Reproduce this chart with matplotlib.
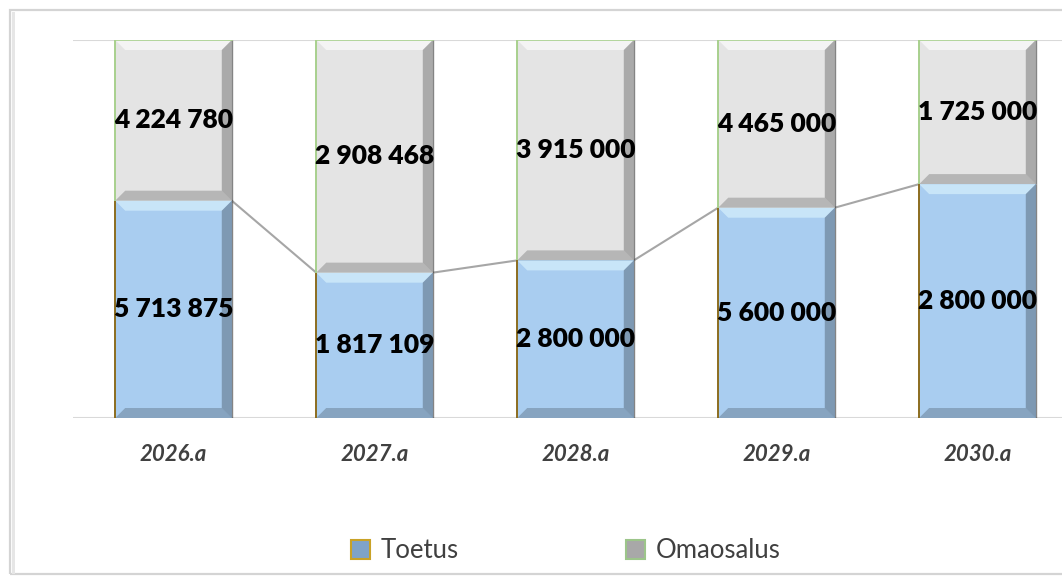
"""
100% virnadiagramm: Toetus vs Omaosalus aastate kaupa
"""

import numpy as np
import matplotlib
matplotlib.use("Agg")
import matplotlib.pyplot as plt
from matplotlib.patches import Polygon, Patch, Rectangle

plt.rcParams["font.family"] = ["Lato", "DejaVu Sans"]

years = ["2026.a", "2027.a", "2028.a", "2029.a", "2030.a"]
toetus = [5713875, 1817109, 2800000, 5600000, 2800000]
omaosalus = [4224780, 2908468, 3915000, 4465000, 1725000]

C_TOETUS = "#A9CDF0"
C_OMA = "#E4E4E4"
EDGE_TOETUS = "#8C6D1F"
EDGE_OMA = "#A8D08D"
C_LINE = "#A6A6A6"
C_TEXT = "#404040"

W, H = 1062, 578
fig = plt.figure(figsize=(W / 100, H / 100), dpi=100)

# chart frame (runs off the right edge like the screenshot)
fig.patches.append(Rectangle((10 / W, 4 / H), 1.2, (H - 14) / H, transform=fig.transFigure,
                             fill=False, edgecolor="#D4D4D4", linewidth=1.6, zorder=0))
fig.patches.append(Rectangle((12 / W, 4 / H), 3 / W, (H - 16) / H, transform=fig.transFigure,
                             facecolor="#E6E6E6", edgecolor="none", zorder=0))

ax_left, ax_right = 73, 73 + 1005
ax_top, ax_bot = 40, 418
ax = fig.add_axes([ax_left / W, 1 - ax_bot / H, (ax_right - ax_left) / W, (ax_bot - ax_top) / H])

x = np.arange(len(years))
tot = np.array(toetus) + np.array(omaosalus)
share_t = np.array(toetus) / tot
share_o = np.array(omaosalus) / tot
bw = 0.58

ax.set_xlim(-0.5, len(years) - 0.5)
ax.set_ylim(0, 1)

px_x = (ax_right - ax_left) / len(years)
px_y = ax_bot - ax_top
bev = 10
dx, dy = bev / px_x, bev / px_y


def bevel_bar(xc, y0, y1, color, edge, top_col):
    x0, x1 = xc - bw / 2, xc + bw / 2
    ax.bar(xc, y1 - y0, bottom=y0, width=bw, color=color, edgecolor="none", zorder=2)
    top = [(x0, y1), (x1, y1), (x1 - dx, y1 - dy), (x0 + dx, y1 - dy)]
    right = [(x1, y1), (x1, y0), (x1 - dx, y0 + dy), (x1 - dx, y1 - dy)]
    bottom = [(x0, y0), (x1, y0), (x1 - dx, y0 + dy), (x0 + dx, y0 + dy)]
    ax.add_patch(Polygon(top, closed=True, facecolor=top_col, alpha=0.6, edgecolor="none", zorder=3))
    ax.add_patch(Polygon(right, closed=True, facecolor="black", alpha=0.25, edgecolor="none", zorder=3))
    ax.add_patch(Polygon(bottom, closed=True, facecolor="black", alpha=0.2, edgecolor="none", zorder=3))
    ax.plot([x0, x0], [y0, y1], color=edge, linewidth=1.4, zorder=4, solid_capstyle="butt")
    ax.plot([x1, x1], [y0, y1], color="#333333", linewidth=1.0, alpha=0.6, zorder=4,
            solid_capstyle="butt")


for i in range(len(years)):
    bevel_bar(x[i], 0, share_t[i], C_TOETUS, EDGE_TOETUS, "#DDF6FF")
    bevel_bar(x[i], share_t[i], 1, C_OMA, EDGE_OMA, "white")
    ax.plot([x[i] - bw / 2, x[i] + bw / 2], [1, 1], color=EDGE_OMA, linewidth=1.2, zorder=4)

# series lines between toetus tops
for i in range(len(years) - 1):
    ax.plot([x[i] + bw / 2, x[i + 1] - bw / 2], [share_t[i], share_t[i + 1]],
            color=C_LINE, linewidth=1.5, zorder=1)


def fmt(v):
    return f"{v:,}".replace(",", " ")


for i in range(len(years)):
    ax.text(x[i], share_t[i] / 2, fmt(toetus[i]), ha="center", va="center",
            fontsize=19, fontweight="heavy", color="black", zorder=5)
    ax.text(x[i], share_t[i] + share_o[i] / 2, fmt(omaosalus[i]), ha="center", va="center",
            fontsize=19, fontweight="heavy", color="black", zorder=5)

ax.axhline(0, color="#D9D9D9", linewidth=1.5, zorder=1)
ax.axhline(1, color="#D9D9D9", linewidth=1.5, zorder=1)
for s in ax.spines.values():
    s.set_visible(False)
ax.set_yticks([])
ax.set_xticks(x)
ax.set_xticklabels(years, fontsize=16, fontweight="bold", fontstyle="italic", color=C_TEXT)
ax.tick_params(axis="x", length=0, pad=19)

handles = [Patch(facecolor="#7FA3C8", edgecolor="#C9A227", linewidth=1.5, label="Toetus"),
           Patch(facecolor="#A8A8A8", edgecolor="#9CC58A", linewidth=1.5, label="Omaosalus")]
leg = fig.legend(handles=handles, loc="center", bbox_to_anchor=(566 / W, 1 - 551 / H), ncol=2,
                 frameon=False, fontsize=18.5, handlelength=0.74, handleheight=0.74,
                 handletextpad=0.43, columnspacing=6.5)
for t in leg.get_texts():
    t.set_color(C_TEXT)

fig.savefig("out.png", dpi=100)
